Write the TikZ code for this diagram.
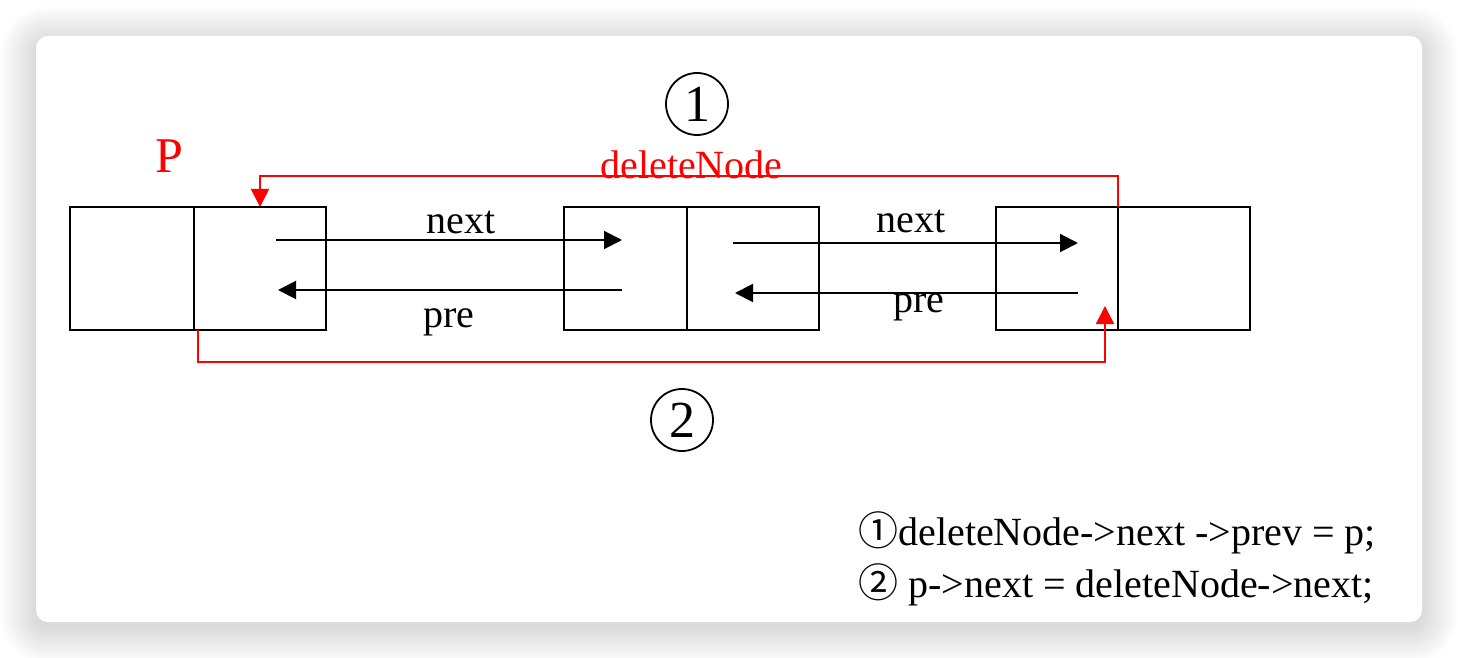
\documentclass[tikz,border=0pt]{standalone}
\usepackage{fontspec}
\setmainfont{Liberation Serif}
\newfontfamily\symfont{Noto Sans CJK SC}
\usetikzlibrary{positioning}
\usetikzlibrary{arrows.meta}
\usetikzlibrary{calc}

\begin{document}
\begin{tikzpicture}[
        x = 0.5pt, y = -0.5pt,
        cell/.style = {
            draw,
            line width = 1pt,
            minimum width = #1,
            minimum height = 61.5pt,
            inner sep = 0pt,
            outer sep = 0pt
        },
        cell/.default = 62pt,
        lbl/.style = {font=\fontsize{20}{24}\selectfont, inner sep=0pt, anchor=base west},
        circnum/.style = {draw, circle, line width=0.9pt, minimum size=31pt, inner sep=0pt,
                          font=\fontsize{26}{26}\selectfont},
        link/.style = {-{Triangle[length=9pt, width=9pt]}, line width=1pt},
        redlink/.style = {-{Triangle[length=9pt, width=9pt]}, red, line width=0.8pt}
        ]
%
        \useasboundingbox (0,0) rectangle (1458,658);
% card with shadow
        \foreach \i in {1,...,36}
            \fill[black, opacity=0.0045, rounded corners=6pt+\i*0.5pt]
                (36-\i,36-\i+6) rectangle (1422+\i,622+\i+6);
        \fill[white, rounded corners=6pt] (36,36) rectangle (1422,622);
%
% list nodes
        \node[cell=62pt] (d1) at (132,268.5) {};
        \node[cell=66pt, right=0pt of d1] (p1) {};
%
        \node[cell=61.5pt] (d2) at (625.5,268.5) {};
        \node[cell=66pt, right=0pt of d2] (p2) {};
%
        \node[cell=61pt] (d3) at (1057,268.5) {};
        \node[cell=66pt, right=0pt of d3] (p3) {};
%
% arrow ends
        \coordinate (n1s) at (276,240);
        \coordinate (n1e) at (622,240);
        \coordinate (r1s) at (622,290);
        \coordinate (r1e) at (278,290);
        \coordinate (n2s) at (733,243);
        \coordinate (n2e) at (1078,243);
        \coordinate (r2s) at (1078,293);
        \coordinate (r2e) at (735,293);
        \coordinate (t2) at (1105,306);
%
        \draw[link] (n1s) -- (n1e);
        \draw[link] (r1s) -- (r1e);
        \draw[link] (n2s) -- (n2e);
        \draw[link] (r2s) -- (r2e);
%
        \node[lbl] (nx1) at (426,234) {next};
        \node[lbl] (pr1) at (423,327) {pre};
        \node[lbl] (nx2) at (876,233) {next};
        \node[lbl] (pr2) at (893,313) {pre};
%
% red links
        \draw[redlink] (p3.north west) -- ++(0,-31) -| (p1.north);
        \draw[redlink] ($(p1.south west)+(4,0)$) -- ++(0,32) -| (t2);
%
        \node[lbl, text=red] (del) at (600,178) {deleteNode};
        \node[lbl, text=red, font=\fontsize{25}{30}\selectfont] (P) at (155,173) {P};
%
        \node[circnum] (c1) at (697,104) {1};
        \node[circnum] (c2) at (682,420) {2};
%
% code lines
        \node[lbl, font=\fontsize{20}{24}\selectfont] (eq1) at (858,545)
            {{\symfont ①}deleteNode->next ->prev = p;};
        \node[lbl, font=\fontsize{20}{24}\selectfont] (eq2) at (858,597)
            {{\symfont ②} p->next = deleteNode->next;};
%
    \end{tikzpicture}
\end{document}
